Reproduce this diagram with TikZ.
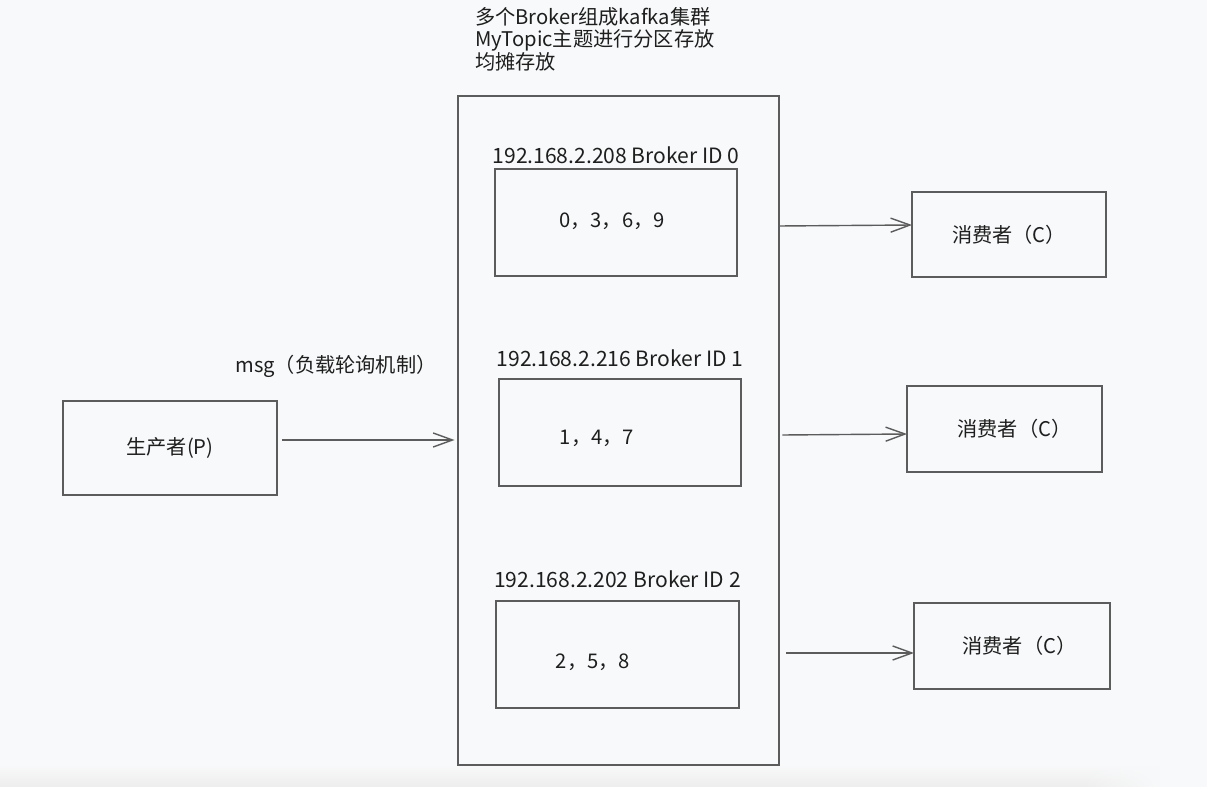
\documentclass[tikz,border=0pt]{standalone}
\usepackage{fontspec}
\setmainfont{Noto Sans CJK SC}
\usepackage{tikz}
\usetikzlibrary{positioning, arrows.meta, fadings}
\definecolor{linegray}{HTML}{5C5C5C}
\definecolor{inkgray}{HTML}{1E1E1E}
\definecolor{paper}{HTML}{F8F9FA}

\begin{document}
\begin{tikzpicture}[x=0.02cm, y=-0.02cm, text=inkgray,
  font=\fontsize{11.5}{13}\selectfont,
  box node/.style={rectangle,draw=linegray,line width=0.8pt,inner sep=0pt,outer sep=0pt},
  label node/.style={inner sep=1pt,font=\fontsize{12}{14}\selectfont},
  flow/.style={draw=linegray,line width=0.8pt,-{Straight Barb[length=11pt,width=8pt]}}]

\useasboundingbox[fill=paper] (0,0) rectangle (1207,787);
\shade[top color=paper, bottom color=black!7] (0,765) rectangle (1080,787);
\shade[top color=paper, bottom color=black!7, path fading=east] (1080,765) rectangle (1160,787);

% kafka cluster
\node[box node, minimum width=6.42cm, minimum height=13.38cm] (K) at (618.5,430.5) {};
\node[anchor=north west, align=left, inner sep=1pt] (T) at (473,5)
  {多个Broker组成kafka集群\\MyTopic主题进行分区存放\\均摊存放};

% brokers
\node[box node, minimum width=4.84cm, minimum height=2.14cm] (B0) at (616,222.5) {};
\node[box node, minimum width=4.84cm, minimum height=2.14cm] (B1) at (620,432.5) {};
\node[box node, minimum width=4.86cm, minimum height=2.14cm] (B2) at (617.5,654.5) {};
\node[label node] (L0) [above=0.06cm of B0] {192.168.2.208 Broker ID 0};
\node[label node] (L1) [above=0.2cm of B1] {192.168.2.216 Broker ID 1};
\node[label node] (L2) [above=0.22cm of B2] {192.168.2.202 Broker ID 2};
\node (P0) at (612,221) {0，3，6，9};
\node (P1) at (597,438) {1，4，7};
\node (P2) at (593,662) {2，5，8};

% producer and consumers
\node[box node, minimum width=4.28cm, minimum height=1.88cm] (P) at (170,448) {生产者(P)};
\node[box node, minimum width=3.88cm, minimum height=1.70cm] (C0) at (1009,234.5) {消费者（C）};
\node[box node, minimum width=3.90cm, minimum height=1.72cm] (C1) at (1004.5,429) {\hspace{0.4cm}消费者（C）};
\node[box node, minimum width=3.92cm, minimum height=1.72cm] (C2) at (1012,646) {\hspace{0.3cm}消费者（C）};
\node (M) at (336,366) {msg（负载轮询机制）};

\draw[flow, shorten >=2pt] ([shift={(5,-8)}]P.east) -- (K.west |- 0,440);
\draw[flow] (K.east |- 0,226) -- (C0.west |- 0,225);
\draw[flow] ([xshift=2pt]K.east |- 0,435) -- (C1.west |- 0,434);
\draw[flow] ([xshift=4pt]K.east |- 0,653) -- (C2.west |- 0,653);

\end{tikzpicture}
\end{document}
